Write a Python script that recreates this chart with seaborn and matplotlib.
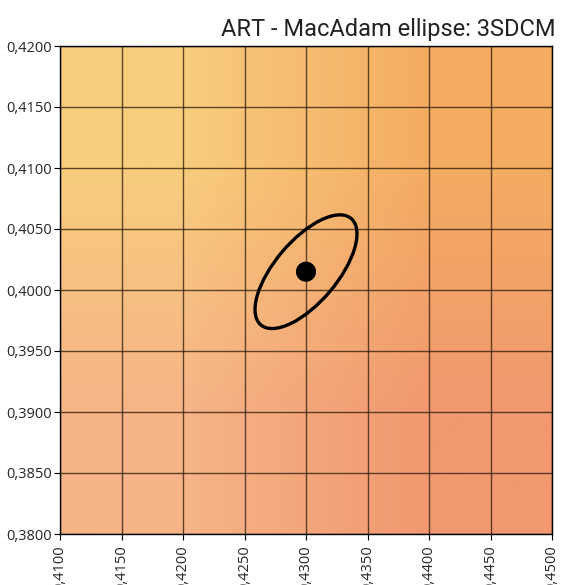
import numpy as np
import pandas as pd
import matplotlib
matplotlib.use("Agg")
import matplotlib.pyplot as plt
import seaborn as sns
from matplotlib.patches import Ellipse
from matplotlib.ticker import FuncFormatter

# ---------------------------------------------------------
# datos
# ---------------------------------------------------------
titulo = "ART - MacAdam ellipse: 3SDCM"
x_ticks = [0.410, 0.415, 0.420, 0.425, 0.430, 0.435, 0.440, 0.445, 0.450]
y_ticks = [0.380, 0.385, 0.390, 0.395, 0.400, 0.405, 0.410, 0.415, 0.420]
centro_x = [0.4300]
centro_y = [0.4015]
elipse_a = 0.0057   # semieje mayor
elipse_b = 0.00253  # semieje menor
elipse_angulo = 50  # grados

# colores de las esquinas del fondo (arriba-izq, arriba-der, abajo-izq, abajo-der)
fondo = np.array([
    [[248, 205, 125], [244, 172, 98]],
    [[246, 180, 136], [241, 152, 112]],
]) / 255.0

# ---------------------------------------------------------
# figura
# ---------------------------------------------------------
sns.set_style("white")
plt.rcParams["font.family"] = ["Open Sans", "DejaVu Sans"]

fig = plt.figure(figsize=(5.64, 5.85), dpi=100)
ax = fig.add_axes([60 / 564, 51 / 585, 492 / 564, 488 / 585])

ax.imshow(fondo, extent=(x_ticks[0], x_ticks[-1], y_ticks[0], y_ticks[-1]),
          aspect="auto", interpolation="bilinear", zorder=0)

for xv in x_ticks:
    ax.axvline(xv, color="#2a1a0a", lw=1.0, alpha=0.75, zorder=1)
for yv in y_ticks:
    ax.axhline(yv, color="#2a1a0a", lw=1.0, alpha=0.75, zorder=1)

ax.add_patch(Ellipse((centro_x[0], centro_y[0]), 2 * elipse_a, 2 * elipse_b,
                     angle=elipse_angulo, fill=False, ec="black", lw=2.4, zorder=3))

df = pd.DataFrame({"x": centro_x, "y": centro_y})
sns.scatterplot(data=df, x="x", y="y", ax=ax, s=210, color="black",
                edgecolor="none", zorder=4)

ax.set_xlim(x_ticks[0], x_ticks[-1])
ax.set_ylim(y_ticks[0], y_ticks[-1])
ax.set_xticks(x_ticks)
ax.set_yticks(y_ticks)
fmt = FuncFormatter(lambda v, p: f"{v:.4f}".replace(".", ","))
ax.xaxis.set_major_formatter(fmt)
ax.yaxis.set_major_formatter(fmt)
ax.tick_params(axis="both", length=4, width=0.8, color="black",
               labelsize=10.5, pad=1.5, direction="out",
               bottom=True, left=True)
ax.tick_params(axis="x", labelrotation=90, pad=4)
ax.set_xlabel("")
ax.set_ylabel("")
for s in ax.spines.values():
    s.set_color("black")
    s.set_linewidth(1.0)

fig.text(556 / 564, 1 - 36 / 585, titulo, ha="right", va="baseline",
         fontsize=17, family=["Roboto", "DejaVu Sans"], color="#222222")

plt.savefig("out.png", dpi=100)
